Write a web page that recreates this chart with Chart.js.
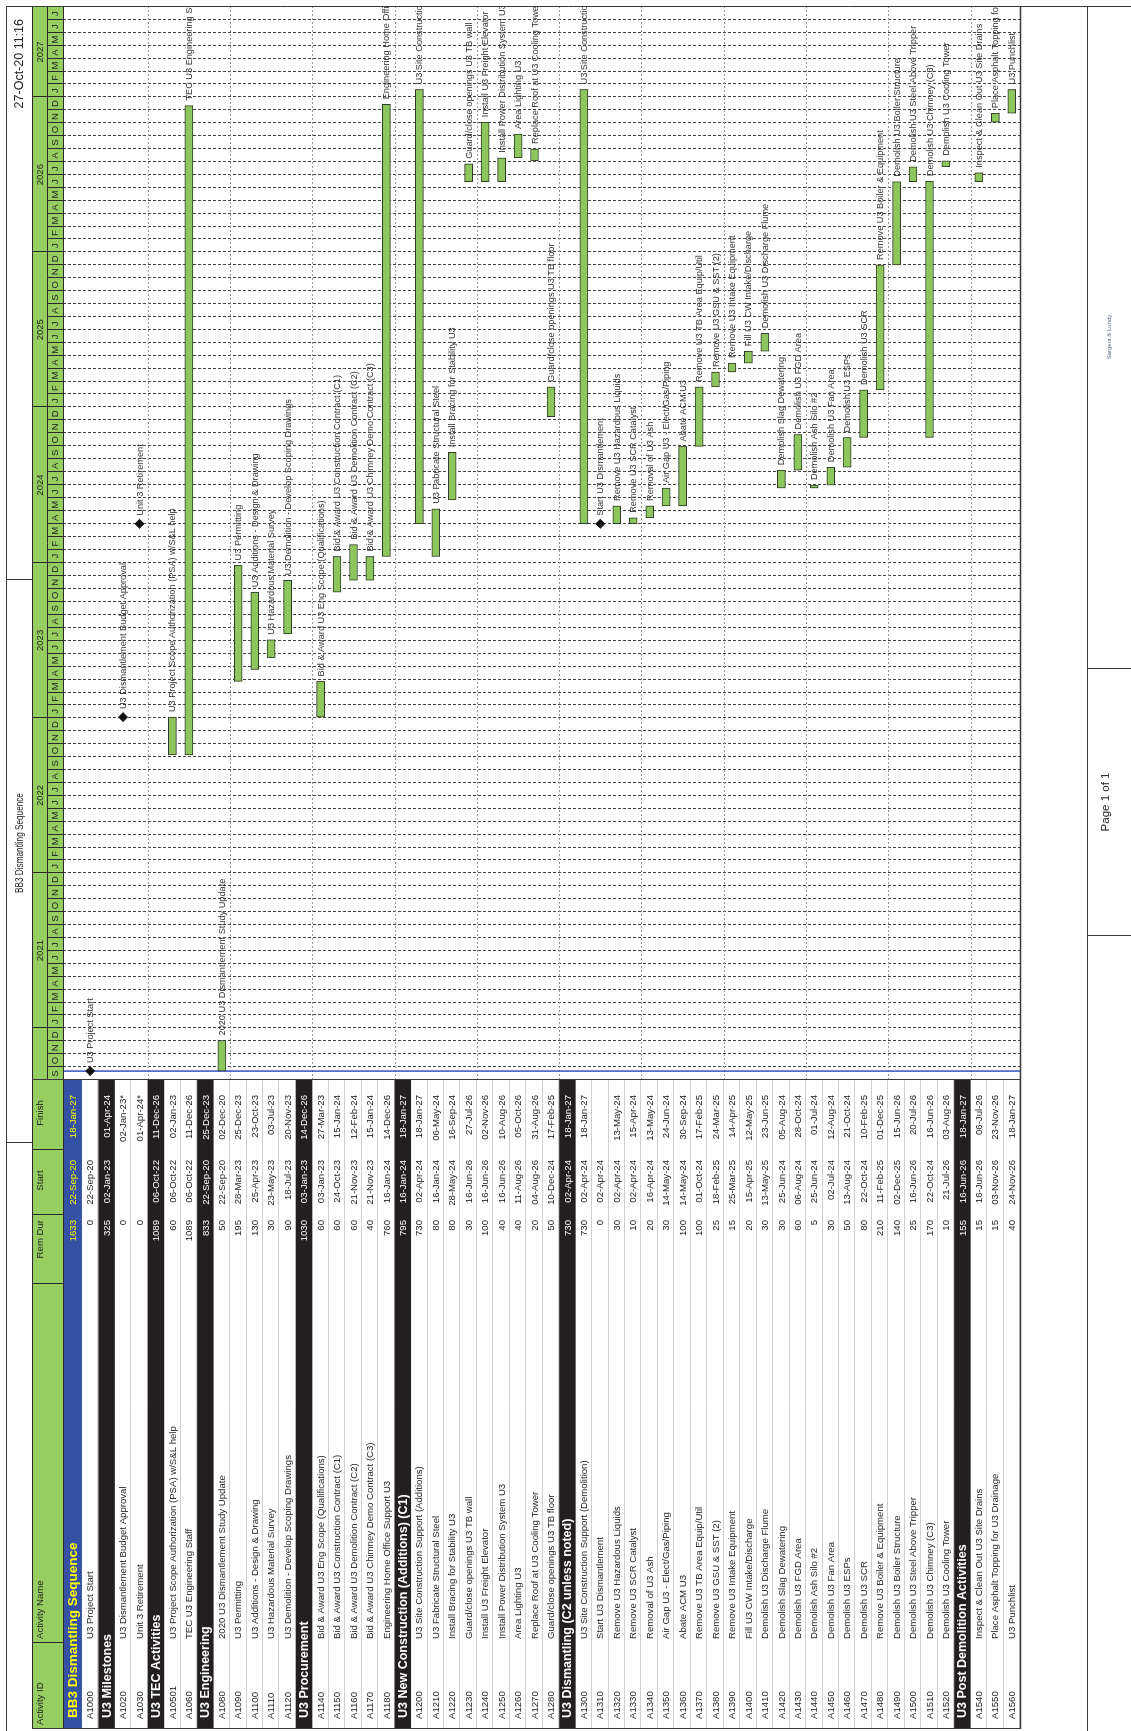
<!DOCTYPE html>
<html>
<head>
<meta charset="utf-8">
<title>BB3 Dismantling Sequence</title>
<script src="https://cdn.jsdelivr.net/npm/chart.js@4.4.0/dist/chart.umd.min.js"></script>
<style>
html, body { margin: 0; padding: 0; background: #fff; overflow: hidden; }
/* the printed page is landscape, the photo is portrait: turn it a quarter left */
#page { position: absolute; left: 0; top: 0; width: 1731px; height: 1131px;
        transform-origin: 0 0; transform: translate(0, 1731px) rotate(-90deg); }
canvas { display: block; }
</style>
</head>
<body>
<div id="page"><canvas id="gantt" width="1731" height="1131"></canvas></div>
<script>
var ids = ['', 'A1000', '', 'A1020', 'A1030', '', 'A10501', 'A1060', '', 'A1080', 'A1090', 'A1100', 'A1110', 'A1120',
    '', 'A1140', 'A1150', 'A1160', 'A1170', 'A1180', '', 'A1200', 'A1210', 'A1220', 'A1230', 'A1240', 'A1250', 'A1260',
    'A1270', 'A1280', '', 'A1300', 'A1310', 'A1320', 'A1330', 'A1340', 'A1350', 'A1360', 'A1370', 'A1380', 'A1390',
    'A1400', 'A1410', 'A1420', 'A1430', 'A1440', 'A1450', 'A1460', 'A1470', 'A1480', 'A1490', 'A1500', 'A1510', 'A1520',
    '', 'A1540', 'A1550', 'A1560'];
var names = ['BB3 Dismantling Sequence', 'U3 Project Start', 'U3 Milestones', 'U3 Dismantlement Budget Approval',
    'Unit 3 Retirement', 'U3 TEC Activities', 'U3 Project Scope Authorization (PSA) w/S&L help', 'TEC U3 Engineering Staff',
    'U3 Engineering', '2020 U3 Dismantlement Study Update', 'U3 Permitting', 'U3 Additions - Design & Drawing',
    'U3 Hazardous Material Survey', 'U3 Demolition - Develop Scoping Drawings', 'U3 Procurement',
    'Bid & Award U3 Eng Scope (Qualifications)', 'Bid & Award U3 Construction Contract (C1)',
    'Bid & Award U3 Demolition Contract (C2)', 'Bid & Award U3 Chimney Demo Contract (C3)',
    'Engineering Home Office Support U3', 'U3 New Construction (Additions) (C1)', 'U3 Site Construction Support (Additions)',
    'U3 Fabricate Structural Steel', 'Install Bracing for Stability U3', 'Guard/close openings U3 TB wall',
    'Install U3 Freight Elevator', 'Install Power Distribution System U3', 'Area Lighting U3',
    'Replace Roof at U3 Cooling Tower', 'Guard/close openings U3 TB floor', 'U3 Dismantling (C2 unless noted)',
    'U3 Site Construction Support (Demolition)', 'Start U3 Dismantlement', 'Remove U3 Hazardous Liquids',
    'Remove U3 SCR Catalyst', 'Removal of U3 Ash', 'Air Gap U3 - Elect/Gas/Piping', 'Abate ACM U3',
    'Remove U3 TB Area Equip/Util', 'Remove U3 GSU & SST (2)', 'Remove U3 Intake Equipment', 'Fill U3 CW Intake/Discharge',
    'Demolish U3 Discharge Flume', 'Demolish Slag Dewatering', 'Demolish U3 FGD Area', 'Demolish Ash Silo #2',
    'Demolish U3 Fan Area', 'Demolish U3 ESPs', 'Demolish U3 SCR', 'Remove U3 Boiler & Equipment',
    'Demolish U3 Boiler Structure', 'Demolish U3 Steel Above Tripper', 'Demolish U3 Chimney (C3)',
    'Demolish U3 Cooling Tower', 'U3 Post Demolition Activities', 'Inspect & Clean Out U3 Site Drains',
    'Place Asphalt Topping for U3 Drainage', 'U3 Punchlist'];
var remDur = [1633, 0, 325, 0, 0, 1089, 60, 1089, 833, 50, 195, 130, 30, 90, 1030, 60, 60, 60, 40, 760, 795, 730, 80, 80,
    30, 100, 40, 40, 20, 50, 730, 730, 0, 30, 10, 20, 30, 100, 100, 25, 15, 20, 30, 30, 60, 5, 30, 50, 80, 210, 140, 25,
    170, 10, 155, 15, 15, 40];
var starts = ['22-Sep-20', '22-Sep-20', '02-Jan-23', '', '', '06-Oct-22', '06-Oct-22', '06-Oct-22', '22-Sep-20',
    '22-Sep-20', '28-Mar-23', '25-Apr-23', '23-May-23', '18-Jul-23', '03-Jan-23', '03-Jan-23', '24-Oct-23', '21-Nov-23',
    '21-Nov-23', '16-Jan-24', '16-Jan-24', '02-Apr-24', '16-Jan-24', '28-May-24', '16-Jun-26', '16-Jun-26', '16-Jun-26',
    '11-Aug-26', '04-Aug-26', '10-Dec-24', '02-Apr-24', '02-Apr-24', '02-Apr-24', '02-Apr-24', '02-Apr-24', '16-Apr-24',
    '14-May-24', '14-May-24', '01-Oct-24', '18-Feb-25', '25-Mar-25', '15-Apr-25', '13-May-25', '25-Jun-24', '06-Aug-24',
    '25-Jun-24', '02-Jul-24', '13-Aug-24', '22-Oct-24', '11-Feb-25', '02-Dec-25', '16-Jun-26', '22-Oct-24', '21-Jul-26',
    '16-Jun-26', '16-Jun-26', '03-Nov-26', '24-Nov-26'];
var finishes = ['18-Jan-27', '', '01-Apr-24', '02-Jan-23*', '01-Apr-24*', '11-Dec-26', '02-Jan-23', '11-Dec-26',
    '25-Dec-23', '02-Dec-20', '25-Dec-23', '23-Oct-23', '03-Jul-23', '20-Nov-23', '14-Dec-26', '27-Mar-23', '15-Jan-24',
    '12-Feb-24', '15-Jan-24', '14-Dec-26', '18-Jan-27', '18-Jan-27', '06-May-24', '16-Sep-24', '27-Jul-26', '02-Nov-26',
    '10-Aug-26', '05-Oct-26', '31-Aug-26', '17-Feb-25', '18-Jan-27', '18-Jan-27', '', '13-May-24', '15-Apr-24',
    '13-May-24', '24-Jun-24', '30-Sep-24', '17-Feb-25', '24-Mar-25', '14-Apr-25', '12-May-25', '23-Jun-25', '05-Aug-24',
    '28-Oct-24', '01-Jul-24', '12-Aug-24', '21-Oct-24', '10-Feb-25', '01-Dec-25', '15-Jun-26', '20-Jul-26', '16-Jun-26',
    '03-Aug-26', '18-Jan-27', '06-Jul-26', '23-Nov-26', '18-Jan-27'];
// top = project band, wbs = black band, task = bar, ms = milestone
var kinds = ['top', 'ms', 'wbs', 'ms', 'ms', 'wbs', 'task', 'task', 'wbs', 'task', 'task', 'task', 'task', 'task',
    'wbs', 'task', 'task', 'task', 'task', 'task', 'wbs', 'task', 'task', 'task', 'task', 'task', 'task', 'task', 'task',
    'task', 'wbs', 'task', 'ms', 'task', 'task', 'task', 'task', 'task', 'task', 'task', 'task', 'task', 'task', 'task',
    'task', 'task', 'task', 'task', 'task', 'task', 'task', 'task', 'task', 'task', 'wbs', 'task', 'task', 'task'];
var monthLetters = ['J', 'F', 'M', 'A', 'M', 'J', 'J', 'A', 'S', 'O', 'N', 'D'];
var dataDate = '22-Sep-20';

var MON = ['Jan', 'Feb', 'Mar', 'Apr', 'May', 'Jun', 'Jul', 'Aug', 'Sep', 'Oct', 'Nov', 'Dec'];
var DAY = 86400000;
var T0 = Date.UTC(2020, 8, 1), T1 = Date.UTC(2027, 7, 1);
function toTime(s) {
    if (!s) return null;
    var p = s.replace('*', '').split('-');
    return Date.UTC(2000 + (+p[2]), MON.indexOf(p[1]), +p[0]);
}

// row slots on the index axis: the project band is a little taller than the rest
var ROW0 = 1.15;
var ROWS_END = ROW0 + names.length - 1;
function rowTop(i) { return i === 0 ? 0 : ROW0 + i - 1; }
function rowBottom(i) { return i === 0 ? ROW0 : ROW0 + i; }
function rowMid(i) { return (rowTop(i) + rowBottom(i)) / 2; }

var barRows = [], barData = [], msRows = [], msData = [];
names.forEach(function(n, i) {
    if (kinds[i] === 'task') {
        barRows.push(i);
        barData.push({ x: [toTime(starts[i]), toTime(finishes[i]) + DAY], y: rowMid(i) });
    } else if (kinds[i] === 'ms') {
        msRows.push(i);
        msData.push({ x: finishes[i] ? toTime(finishes[i]) + DAY : toTime(starts[i]), y: rowMid(i) });
    }
});

// page geometry (landscape, before the turn)
var TBL_L = 2, HEAD_TOP = 32, HEAD_MID = 47;
var COL_ID = 12, COL_NAME = 92, COL_REM = 511, COL_START = 571, COL_FIN = 636;
var SEPS = [88, 447, 516, 581];
var HEAD_GREEN = '#96ce62', BAR_GREEN = '#8dc65c';
var SANS = '"Liberation Sans", Arial, sans-serif';

var hasNarrow = (function() {
    var c = document.createElement('canvas').getContext('2d');
    c.font = '20px "Liberation Sans Narrow", monospace';
    var a = c.measureText('Dismantling Sequence').width;
    c.font = '20px monospace';
    return Math.abs(a - c.measureText('Dismantling Sequence').width) > 0.5;
})();

function txt(ctx, s, x, y, size, o) {
    o = o || {};
    ctx.save();
    ctx.fillStyle = o.color || '#1e1e1e';
    ctx.textBaseline = 'middle';
    ctx.textAlign = o.align || 'left';
    var w = o.bold ? 'bold ' : '';
    if (!o.narrow) {
        ctx.font = w + size + 'px ' + SANS;
        ctx.fillText(s, x, y);
    } else if (hasNarrow) {
        ctx.font = w + size + 'px "Liberation Sans Narrow", "Arial Narrow", sans-serif';
        ctx.fillText(s, x, y);
    } else {
        ctx.font = w + size + 'px ' + SANS;
        ctx.translate(x, y);
        ctx.scale(0.82, 1);
        ctx.fillText(s, 0, 0);
    }
    ctx.restore();
}
function line(ctx, x1, y1, x2, y2) {
    ctx.beginPath();
    ctx.moveTo(x1, y1);
    ctx.lineTo(x2, y2);
    ctx.stroke();
}
function months() {
    var out = [];
    for (var y = 2020, m = 8; Date.UTC(y, m, 1) <= T1; m++) {
        if (m === 12) { m = 0; y++; }
        out.push({ t: Date.UTC(y, m, 1), y: y, m: m });
    }
    return out;
}

function drawGrid(chart) {
    var ctx = chart.ctx, a = chart.chartArea, xs = chart.scales.x, ys = chart.scales.y;
    ctx.save();
    ctx.lineWidth = 1;
    ctx.strokeStyle = '#444';
    ctx.setLineDash([3, 2]);
    months().forEach(function(mo) {
        var x = Math.round(xs.getPixelForValue(mo.t)) + 0.5;
        if (x > a.left + 1 && x < a.right - 1) line(ctx, x, a.top, x, a.bottom);
    });
    ctx.strokeStyle = '#999';
    ctx.setLineDash([2, 2]);
    for (var r = 5; r < names.length; r += 5) {
        var y = Math.round(ys.getPixelForValue(rowTop(r))) + 0.5;
        line(ctx, a.left, y, a.right, y);
    }
    ctx.setLineDash([]);
    ctx.strokeStyle = '#2f52c8';
    ctx.lineWidth = 1.5;
    var dd = xs.getPixelForValue(toTime(dataDate));
    line(ctx, dd, a.top, dd, a.bottom);
    ctx.restore();
}

function drawBarLabels(chart) {
    var ctx = chart.ctx, a = chart.chartArea;
    ctx.save();
    ctx.beginPath();
    ctx.rect(a.left, a.top, a.right - a.left, a.bottom - a.top);
    ctx.clip();
    chart.getDatasetMeta(0).data.forEach(function(el, k) {
        txt(ctx, names[barRows[k]], Math.max(el.x, el.base) + 5, el.y + 0.5, 9.2, { color: '#333' });
    });
    chart.getDatasetMeta(1).data.forEach(function(el, k) {
        txt(ctx, names[msRows[k]], el.x + 8, el.y + 0.5, 9.2, { color: '#333' });
    });
    ctx.restore();
}

function drawTable(chart) {
    var ctx = chart.ctx, a = chart.chartArea, ys = chart.scales.y;
    var F = 9.6;
    ctx.save();
    for (var i = 0; i < names.length; i++) {
        var top = ys.getPixelForValue(rowTop(i)), bot = ys.getPixelForValue(rowBottom(i));
        var yc = (top + bot) / 2 + 0.5, k = kinds[i];
        var band = k === 'top' || k === 'wbs';
        var col = k === 'top' ? '#ffff00' : (band ? '#ffffff' : '#1e1e1e');
        if (band) {
            ctx.fillStyle = k === 'top' ? '#3451a3' : '#231f20';
            ctx.fillRect(TBL_L, top, a.left - TBL_L, bot - top);
            txt(ctx, names[i], COL_ID + 1, yc, k === 'top' ? 13.5 : 12.5, { bold: true, color: col });
        } else {
            ctx.strokeStyle = '#cfcfcf';
            ctx.lineWidth = 1;
            line(ctx, TBL_L, Math.round(bot) - 0.5, a.left, Math.round(bot) - 0.5);
            txt(ctx, ids[i], COL_ID, yc, F, { color: col });
            txt(ctx, names[i], COL_NAME, yc, F, { color: col });
        }
        txt(ctx, String(remDur[i]), COL_REM, yc, F, { color: col, align: 'right' });
        if (starts[i]) txt(ctx, starts[i], COL_START, yc, F, { color: col, align: 'right' });
        if (finishes[i]) txt(ctx, finishes[i], COL_FIN, yc, F, { color: col, align: 'right' });
    }
    ctx.restore();
}

function drawHeader(chart) {
    var ctx = chart.ctx, a = chart.chartArea, xs = chart.scales.x;
    var bot = a.top;
    ctx.save();
    ctx.fillStyle = HEAD_GREEN;
    ctx.fillRect(TBL_L, HEAD_TOP, a.right - TBL_L, bot - HEAD_TOP);
    ctx.strokeStyle = '#2a2a2a';
    ctx.lineWidth = 1;
    ctx.strokeRect(TBL_L + 0.5, HEAD_TOP + 0.5, a.right - TBL_L, bot - HEAD_TOP);
    line(ctx, a.left, HEAD_MID + 0.5, a.right, HEAD_MID + 0.5);
    SEPS.concat([a.left]).forEach(function(x) { line(ctx, x + 0.5, HEAD_TOP, x + 0.5, bot); });
    var mid1 = HEAD_TOP + 8;
    txt(ctx, 'Activity ID', 6, mid1, 9.6);
    txt(ctx, 'Activity Name', COL_NAME, mid1, 9.6);
    txt(ctx, 'Rem Dur', COL_REM, mid1, 9.6, { align: 'right' });
    txt(ctx, 'Start', (SEPS[2] + SEPS[3]) / 2 + 2, mid1, 9.6, { align: 'center' });
    txt(ctx, 'Finish', (SEPS[3] + a.left) / 2 + 2, mid1, 9.6, { align: 'center' });

    var ms = months();
    var years = {};
    ms.forEach(function(mo, j) {
        var x0 = Math.max(a.left, xs.getPixelForValue(mo.t));
        var next = j + 1 < ms.length ? ms[j + 1].t : T1;
        var x1 = Math.min(a.right, xs.getPixelForValue(next));
        if (x1 - x0 < 1) return;
        var xr = Math.round(x0) + 0.5;
        if (mo.m === 0) line(ctx, xr, HEAD_TOP, xr, bot);
        else if (x0 > a.left + 1) line(ctx, xr, HEAD_MID, xr, bot);
        if (x1 - x0 > 6) txt(ctx, monthLetters[mo.m], (x0 + x1) / 2, (HEAD_MID + bot) / 2 + 0.5, 9.5, { align: 'center' });
        if (!(mo.y in years)) years[mo.y] = { x0: x0, n: 0 };
        years[mo.y].x1 = x1;
        years[mo.y].n++;
    });
    Object.keys(years).forEach(function(y) {
        var s = years[y];
        if (s.n >= 6) txt(ctx, y, (s.x0 + s.x1) / 2, (HEAD_TOP + HEAD_MID) / 2 + 0.5, 9.5, { align: 'center' });
    });
    ctx.restore();
}

function drawFrame(chart) {
    var ctx = chart.ctx, a = chart.chartArea;
    ctx.save();
    ctx.strokeStyle = '#3a3a3a';
    ctx.lineWidth = 1;
    line(ctx, 0, 6.5, 1724, 6.5);
    line(ctx, 1724.5, 6, 1724.5, 1131);
    line(ctx, 588.5, 6, 588.5, HEAD_TOP);
    line(ctx, 1151.5, 6, 1151.5, HEAD_TOP);
    line(ctx, TBL_L + 0.5, HEAD_TOP, TBL_L + 0.5, a.bottom);
    line(ctx, a.left + 0.5, HEAD_TOP, a.left + 0.5, a.bottom);
    ctx.lineWidth = 1.5;
    line(ctx, TBL_L, a.bottom + 0.5, a.right, a.bottom + 0.5);
    ctx.lineWidth = 1;
    line(ctx, 0, 1087.5, 1724, 1087.5);
    line(ctx, 795.5, 1087, 795.5, 1131);
    line(ctx, 1062.5, 1087, 1062.5, 1131);
    txt(ctx, 'BB3 Dismantling Sequence', 888, 20, 10, { align: 'center', color: '#222', narrow: true });
    txt(ctx, '27-Oct-20 11:16', 1712, 20, 12.5, { align: 'right', color: '#222' });
    txt(ctx, 'Page 1 of 1', 929, 1106, 11.5, { align: 'center', color: '#222' });
    txt(ctx, 'Sargent & Lundy', 1394, 1109, 6, { align: 'center', color: '#5a6a8a' });
    ctx.restore();
}

var ganttPlugin = {
    id: 'p6gantt',
    beforeDraw: function(chart) {
        var ctx = chart.ctx;
        ctx.save();
        ctx.fillStyle = '#ffffff';
        ctx.fillRect(0, 0, chart.width, chart.height);
        ctx.restore();
    },
    beforeDatasetsDraw: drawGrid,
    afterDatasetsDraw: drawBarLabels,
    afterDraw: function(chart) {
        drawTable(chart);
        drawHeader(chart);
        drawFrame(chart);
    }
};

var ctx = document.getElementById('gantt').getContext('2d');
var ganttChart = new Chart(ctx, {
    type: 'bar',
    data: {
        datasets: [{
            label: 'Activities',
            data: barData,
            backgroundColor: BAR_GREEN,
            borderColor: '#2f3a28',
            borderWidth: 1,
            borderSkipped: false,
            barThickness: 8
        }, {
            type: 'line',
            label: 'Milestones',
            indexAxis: 'y',
            data: msData,
            showLine: false,
            pointStyle: 'rectRot',
            pointRadius: 4.5,
            pointBackgroundColor: '#111',
            pointBorderColor: '#111'
        }]
    },
    options: {
        indexAxis: 'y',
        responsive: false,
        animation: false,
        layout: { padding: { left: 651, right: 7, top: 63, bottom: 111 } },
        plugins: { legend: { display: false }, tooltip: { enabled: false } },
        scales: {
            x: { type: 'linear', display: false, offset: false, min: T0, max: T1 },
            y: { type: 'linear', display: false, offset: false, grace: 0, min: 0, max: ROWS_END, reverse: true }
        }
    },
    plugins: [ganttPlugin]
});
</script>
</body>
</html>
